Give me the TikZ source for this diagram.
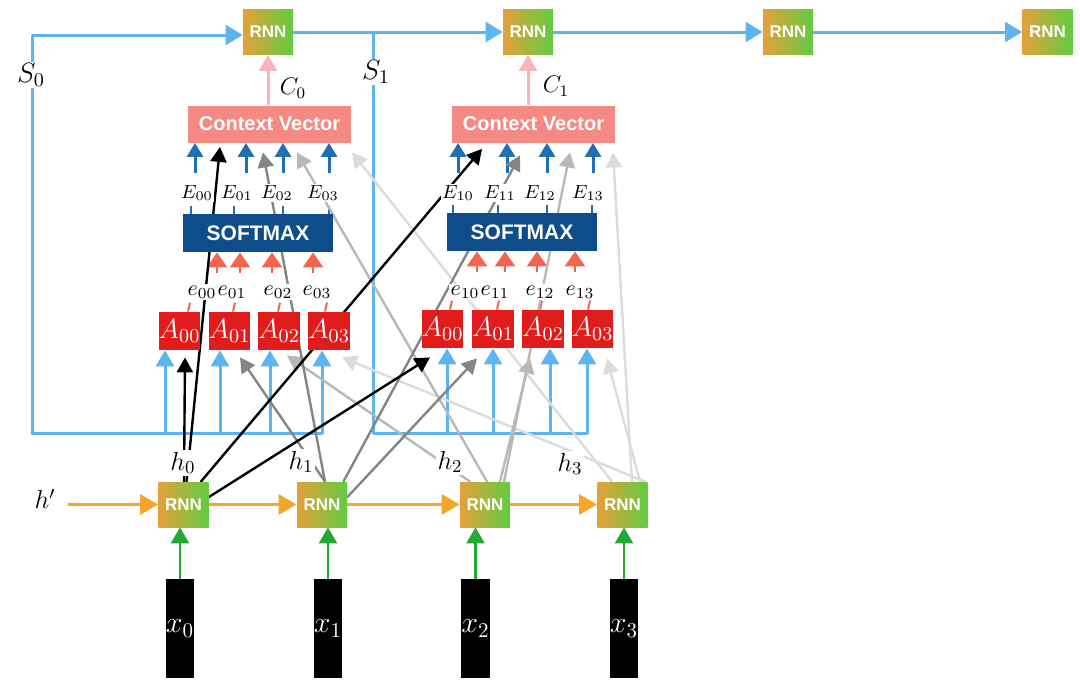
\RequirePackage{fix-cm}
\documentclass[tikz,border=0pt]{standalone}
\usepackage{fontspec}
\newfontfamily\labsans{Liberation Sans}
\usetikzlibrary{arrows.meta}
\definecolor{lblue}{HTML}{5DB4F0}
\definecolor{dblue}{HTML}{1F6FB5}
\definecolor{smblue}{HTML}{0E4C8A}
\definecolor{cvred}{HTML}{F58A85}
\definecolor{pinkc}{HTML}{F8B5B9}
\definecolor{ared}{HTML}{E01C1C}
\definecolor{tomatoc}{HTML}{F46550}
\definecolor{orng}{HTML}{F5A52A}
\definecolor{grn}{HTML}{25A735}
\definecolor{rnnO}{HTML}{E5A03A}
\definecolor{rnnG}{HTML}{62CC42}
\definecolor{g1}{HTML}{858585}
\definecolor{g2}{HTML}{B8B8B8}
\definecolor{g3}{HTML}{DCDCDC}
\newcommand{\myfs}[1]{\fontsize{#1}{#1}\selectfont}
\pgfdeclarelayer{bg}
\pgfsetlayers{bg,main}
\begin{document}
\begin{tikzpicture}[x=0.5pt,y=-0.5pt,
 rnn/.style={minimum width=25pt,minimum height=22.5pt,inner sep=0pt,left color=rnnO,right color=rnnG,text=white,font={\labsans\bfseries\myfs{8.5}}},
 abox/.style={fill=ared,minimum width=20.5pt,minimum height=19pt,inner sep=0pt,text=white,font={\myfs{14}}},
 smbox/.style={fill=smblue,minimum width=75pt,minimum height=19pt,inner sep=0pt,text=white,font={\labsans\bfseries\myfs{10.5}}},
 cvbox/.style={fill=cvred,minimum width=81.5pt,minimum height=18.5pt,inner sep=0pt,text=white,font={\labsans\bfseries\myfs{10}}},
 xbox/.style={fill=black,minimum width=13pt,minimum height=49.5pt,inner sep=0pt,text=white,font={\myfs{15}}},
 lab/.style={fill=white,inner sep=0.8pt},
 bluel/.style={draw=lblue,line width=1.5pt,line cap=round,line join=round},
 bluearr/.style={bluel,-{Triangle[length=8.5pt,width=10pt]}},
 ainarr/.style={bluel,-{Triangle[length=8pt,width=9pt]}},
 cvarr/.style={draw=dblue,line width=1.5pt,-{Triangle[length=7pt,width=8pt]}},
 bstub/.style={draw=dblue,line width=1.3pt},
 redarr/.style={draw=tomatoc,line width=1.3pt,-{Triangle[length=7.5pt,width=10pt]}},
 rstub/.style={draw=tomatoc,line width=1pt},
 pinkarr/.style={draw=pinkc,line width=1.5pt,-{Triangle[length=8pt,width=9pt]}},
 orarr/.style={draw=orng,line width=1.5pt,-{Triangle[length=9pt,width=10pt]}},
 grarr/.style={draw=grn,line width=1.3pt,-{Triangle[length=8pt,width=9pt]}},
 conn/.style={line width=1.2pt,line cap=round,-{Triangle[length=7.5pt,width=8pt]}}
]
\useasboundingbox (0,0) rectangle (1080,680);
% top decoder RNNs
\node[rnn] (T1) at (268,32) {RNN};
\node[rnn] (T2) at (528,32) {RNN};
\node[rnn] (T3) at (788,32) {RNN};
\node[rnn] (T4) at (1047.5,32) {RNN};
% context vectors and softmax
\node[cvbox] (CV0) at (269.5,124) {Context Vector};
\node[cvbox] (CV1) at (533.5,124) {Context Vector};
\node[smbox] (SM0) at (258,233) {SOFTMAX};
\node[smbox] (SM1) at (522,232) {SOFTMAX};
% attention boxes
\node[abox] (A00) at (179.5,331) {$A_{00}$};
\node[abox] (A01) at (229.5,331) {$A_{01}$};
\node[abox] (A02) at (279,331) {$A_{02}$};
\node[abox] (A03) at (329,331) {$A_{03}$};
\node[abox] (A10) at (442.5,329) {$A_{00}$};
\node[abox] (A11) at (493,329) {$A_{01}$};
\node[abox] (A12) at (543,329) {$A_{02}$};
\node[abox] (A13) at (592.5,329) {$A_{03}$};
% encoder RNNs and inputs
\node[rnn] (R0) at (183.5,504.5) {RNN};
\node[rnn] (R1) at (322,504.5) {RNN};
\node[rnn] (R2) at (485,504.5) {RNN};
\node[rnn] (R3) at (622.5,504.5) {RNN};
\node[xbox] (X0) at (180,628.5) {$x_0$};
\node[xbox] (X1) at (328,628.5) {$x_1$};
\node[xbox] (X2) at (475.5,628.5) {$x_2$};
\node[xbox] (X3) at (624,628.5) {$x_3$};
% labels
\node[lab,font={\myfs{14}}] (S0) at (31,75) {$S_0$};
\node[lab,font={\myfs{14}}] (S1) at (376,72) {$S_1$};
\node[font={\myfs{12}}] (C0) at (293,88) {$C_0$};
\node[font={\myfs{12}}] (C1) at (556,86) {$C_1$};
\node[lab,font={\myfs{9.5}}] (E00) at (197,193) {$E_{00}$};
\node[lab,font={\myfs{9.5}}] (E01) at (237,193) {$E_{01}$};
\node[lab,font={\myfs{9.5}}] (E02) at (277,193) {$E_{02}$};
\node[lab,font={\myfs{9.5}}] (E03) at (323,193) {$E_{03}$};
\node[lab,font={\myfs{9.5}}] (E10) at (458,193) {$E_{10}$};
\node[lab,font={\myfs{9.5}}] (E11) at (500,193) {$E_{11}$};
\node[lab,font={\myfs{9.5}}] (E12) at (540,193) {$E_{12}$};
\node[lab,font={\myfs{9.5}}] (E13) at (588,193) {$E_{13}$};
\node[lab,font={\myfs{11}}] (e00) at (202,292) {$e_{00}$};
\node[lab,font={\myfs{11}}] (e01) at (232,292) {$e_{01}$};
\node[lab,font={\myfs{11}}] (e02) at (278,292) {$e_{02}$};
\node[lab,font={\myfs{11}}] (e03) at (317,292) {$e_{03}$};
\node[lab,font={\myfs{11}}] (e10) at (465,292) {$e_{10}$};
\node[lab,font={\myfs{11}}] (e11) at (495,292) {$e_{11}$};
\node[lab,font={\myfs{11}}] (e12) at (540,292) {$e_{12}$};
\node[lab,font={\myfs{11}}] (e13) at (580,292) {$e_{13}$};
\node[lab,font={\myfs{13}}] (h0) at (183,463) {$h_0$};
\node[lab,font={\myfs{13}}] (h1) at (301,462) {$h_1$};
\node[lab,font={\myfs{13}}] (h2) at (450,462) {$h_2$};
\node[lab,font={\myfs{13}}] (h3) at (570,464) {$h_3$};
\node[font={\myfs{13}}] (hp) at (45,499) {$h'$};
\begin{pgfonlayer}{bg}
% decoder state lines
\coordinate (s0t) at (32,35);
\coordinate (s0b) at (32,433);
\coordinate (s0e) at (322,433);
\coordinate (s1t) at (373,32);
\coordinate (s1b) at (373,433);
\coordinate (s1e) at (587,433);
\draw[bluearr] (s0b) -- (s0t) -- (T1.west |- s0t);
\draw[bluel] (s0b) -- (s0e);
\draw[bluearr] (T1.east) -- (T2.west);
\draw[bluearr] (T2.east) -- (T3.west);
\draw[bluearr] (T3.east) -- (T4.west);
\draw[bluel] (s1t) -- (s1b) -- (s1e);
\foreach \n/\dx in {A00/-7.25,A01/-4.75,A02/-4.5,A03/-3.5}
  \draw[ainarr] ([xshift=\dx pt]\n.south |- s0b) -- ([xshift=\dx pt]\n.south);
\foreach \n/\dx in {A10/2.25,A11/0,A12/3.5,A13/-2.75}
  \draw[ainarr] ([xshift=\dx pt]\n.south |- s1b) -- ([xshift=\dx pt]\n.south);
% context vector to decoder
\draw[pinkarr] (T1.south |- CV0.north) -- (T1.south);
\draw[pinkarr] (T2.south |- CV1.north) -- (T2.south);
% softmax outputs to context vector
\foreach \n/\c/\s/\st/\ar in {E00/CV0/SM0/-3/-1,E01/CV0/SM0/-1.5/4.5,E02/CV0/SM0/3/3,E03/CV0/SM0/3/3,
  E10/CV1/SM1/-2.5/0,E11/CV1/SM1/-1/3.5,E12/CV1/SM1/3.5/3.5,E13/CV1/SM1/2/2.5}{
  \draw[cvarr] ([xshift=\ar pt,yshift=5pt]\n.north) -- ([xshift=\ar pt]\n.north |- \c.south);
  \draw[bstub] ([xshift=\st pt]\n.south |- \s.north) -- ++(0,-8);
}
% scores into softmax
\foreach \s/\dx in {SM0/-20.5,SM0/-9,SM0/7,SM0/27.5,SM1/-22.5,SM1/-8.5,SM1/7.5,SM1/26.5}
  \draw[redarr] ([xshift=\dx pt,yshift=-10.5pt]\s.south) -- ([xshift=\dx pt]\s.south);
\foreach \a/\dx in {A00/4.25,A01/1.75,A02/-0.5,A03/-2,A10/3.75,A11/2,A12/-1.5,A13/-2.25}
  \draw[rstub] ([xshift=\dx pt]\a.north) -- ++(2,-9);
% encoder chain
\draw[orarr] ([xshift=3pt]hp.east |- R0.west) -- (R0.west);
\draw[orarr] (R0.east) -- (R1.west);
\draw[orarr] (R1.east) -- (R2.west);
\draw[orarr] (R2.east) -- (R3.west);
\foreach \x/\r in {X0/R0,X1/R1,X2/R2,X3/R3}
  \draw[grarr] (\x.north) -- (\x.north |- \r.south);
% hidden state connections
\foreach \col/\src/\sx/\sy/\tgt/\tx/\ty in {
 g3/R3.north/11.25/0/A03.south/6.5/-3.5,
 g3/R3.north/-5.25/0/CV0.south/41.25/-4.75,
 g3/R3.north/8.75/0/A13.south/7.25/-5,
 g3/R3.north/4.75/0/CV1.south/39.75/-4.75,
 g2/R2.north/-7.5/0/A02.south/4/-2.5,
 g2/R2.north/1/0/CV0.south/13.75/-4.75,
 g2/R2.north/7.5/0/A12.south/-6.5/-5,
 g2/R2.north/9.5/0/CV1.south/18.25/-4.75,
 g1/R1.north/1.5/0/A01.south/5.25/-3.5,
 g1/R1.north/1.5/0/CV0.south/-3.25/-4.75,
 g1/R1.east/0/3.75/A11.south/-8/-5,
 g1/R1.north east/-2/0/CV1.south/-6.75/-6.25,
 black/R0.north/0.25/0/A00.south/2.75/-3.5,
 black/R0.north/1.5/0/CV0.south/-24.75/-2,
 black/R0.north east/-4/0/CV1.south/-25.75/-3,
 black/R0.east/0/3.75/A10.south/-6.25/-4.5}
  \draw[conn,draw=\col] ([xshift=\sx pt,yshift=\sy pt]\src) -- ([xshift=\tx pt,yshift=\ty pt]\tgt);
\end{pgfonlayer}
\end{tikzpicture}
\end{document}
